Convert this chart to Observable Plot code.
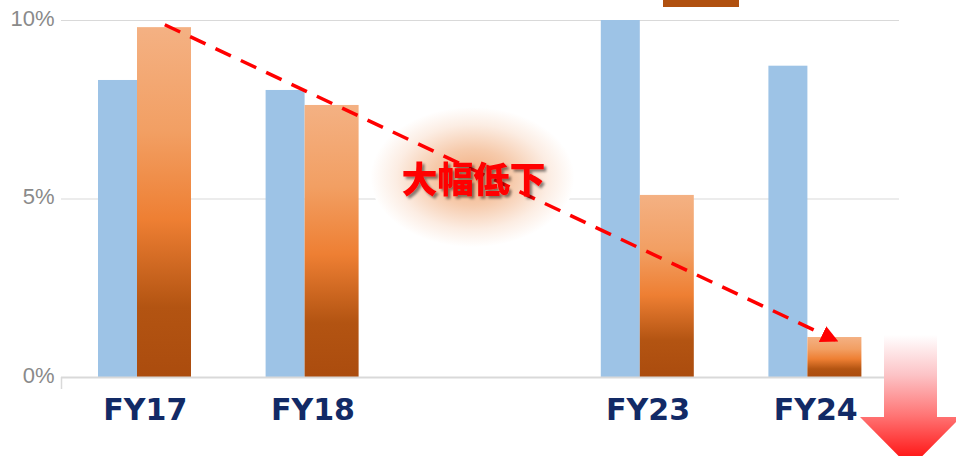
<!DOCTYPE html>
<html>
<head>
<meta charset="utf-8">
<script src="https://cdn.jsdelivr.net/npm/d3@7"></script>
<script src="https://cdn.jsdelivr.net/npm/@observablehq/plot@0.6"></script>
<style>
  html, body { margin: 0; padding: 0; background: #fff; }
  #wrap { position: relative; width: 956px; height: 456px; overflow: hidden; }
  #legendSwatch { position: absolute; left: 663px; top: 0; width: 76px; height: 7px; background: #b0500f; }
  #bigArrow { position: absolute; left: 0; top: 0; pointer-events: none; }
</style>
</head>
<body>
<div id="wrap">
  <div id="chart"></div>
  <div id="legendSwatch"></div>
  <svg id="bigArrow" width="956" height="456" xmlns="http://www.w3.org/2000/svg">
    <defs>
      <linearGradient id="downGrad" x1="0" y1="0" x2="0" y2="1">
        <stop offset="0" stop-color="#ffffff"/>
        <stop offset="0.3" stop-color="#fcc3c6"/>
        <stop offset="0.6" stop-color="#ff7676"/>
        <stop offset="1" stop-color="#ff0000"/>
      </linearGradient>
    </defs>
    <path d="M884,335H937V417H961L910.5,468L860,417H884Z" fill="url(#downGrad)"/>
  </svg>
</div>
<script>
// ---- data ----
const categories = ["FY17", "FY18", "", "FY23", "FY24"];
const blueValues = [8.32, 8.04, null, 11.0, 8.72];
const orangeValues = [9.80, 7.62, null, 5.10, 1.12];
const yTicks = [0, 5, 10];
const annotationText = "大幅低下";
const annotationPos = [{x: "", y: 5.5}];
const trendArrow = [{x1: "FY17", y1: 9.88, x2: "FY24", y2: 1.05}];

const table = categories
  .map((c, i) => ({cat: c, blue: blueValues[i], orange: orangeValues[i]}))
  .filter(d => d.blue != null);

// plot geometry
const W = 956, H = 456, ML = 61, MR = 57, MT = 20, MB = 79;
const bw = (W - ML - MR) / categories.length;

// ellipse symbol for the glow behind the annotation
const ellipseSymbol = {
  draw(ctx) {
    const rx = 102, ry = 70, k = 0.5523;
    ctx.moveTo(rx, 0);
    ctx.bezierCurveTo(rx, ry * k, rx * k, ry, 0, ry);
    ctx.bezierCurveTo(-rx * k, ry, -rx, ry * k, -rx, 0);
    ctx.bezierCurveTo(-rx, -ry * k, -rx * k, -ry, 0, -ry);
    ctx.bezierCurveTo(rx * k, -ry, rx, -ry * k, rx, 0);
    ctx.closePath();
  }
};

const svg = Plot.plot({
  width: W, height: H,
  marginLeft: ML, marginRight: MR, marginTop: MT, marginBottom: MB,
  style: {fontFamily: "'Liberation Sans', Arial, sans-serif", background: "transparent", overflow: "visible"},
  x: {domain: categories, padding: 0, round: false, axis: null},
  y: {domain: [0, 10], axis: null},
  marks: [
    Plot.gridY([5, 10], {stroke: "#d9d9d9", strokeOpacity: 1, strokeWidth: 1}),
    Plot.dot(annotationPos, {x: "x", y: "y", dx: -8, dy: -4, symbol: ellipseSymbol, r: 10, fill: "url(#glow)", stroke: "none"}),
    Plot.barY(table, {x: "cat", y: "blue", fill: "#9dc3e6", insetLeft: 37, insetRight: bw - 76, clip: true}),
    Plot.barY(table, {x: "cat", y: "orange", fill: "url(#og)", insetLeft: 76, insetRight: bw - 130}),
    Plot.ruleY([0], {stroke: "#d9d9d9", strokeWidth: 2}),
    Plot.ruleX([categories[0]], {x: d => d, dx: -bw / 2, dy: 12, insetTop: H - MT - MB - 12, stroke: "#d9d9d9", strokeWidth: 1.5}),
    Plot.link(trendArrow, {x1: "x1", y1: "y1", x2: "x2", y2: "y2", dx: 19.5, stroke: "#ff0000", strokeWidth: 3.5, strokeDasharray: "17,11"}),
    Plot.text(annotationPos, {x: "x", y: "y", dx: -7, text: () => annotationText, fontSize: 36, fontWeight: 900,
      fill: "#ff0000", fontFamily: "'Noto Sans CJK JP', sans-serif"}),
    Plot.axisY({ticks: yTicks, tickFormat: d => d + "%", tickSize: 0, tickPadding: 7, fontSize: 22, fill: "#8a8a8a", dy: -2}),
    Plot.axisX({tickSize: 0, tickPadding: 21, fontSize: 30, fontWeight: "bold", fill: "#122a66",
      fontFamily: "'DejaVu Sans', Verdana, sans-serif"})
  ]
});

// gradients, marker and shadow filter
const defsStr = `<svg xmlns="http://www.w3.org/2000/svg"><defs>
  <linearGradient id="og" x1="0" y1="0" x2="0" y2="1">
    <stop offset="0" stop-color="#f4b183"/>
    <stop offset="0.3" stop-color="#f29f63"/>
    <stop offset="0.55" stop-color="#ee7f33"/>
    <stop offset="0.8" stop-color="#b35412"/>
    <stop offset="1" stop-color="#ab4c0e"/>
  </linearGradient>
  <radialGradient id="glow" cx="0.5" cy="0.5" r="0.5">
    <stop offset="0" stop-color="#f2ac7c"/>
    <stop offset="0.4" stop-color="#f6caab"/>
    <stop offset="0.75" stop-color="#fcede3"/>
    <stop offset="1" stop-color="#ffffff"/>
  </radialGradient>
  <marker id="ah" viewBox="0 0 10 10" refX="8" refY="5" markerWidth="5" markerHeight="5" markerUnits="strokeWidth" orient="auto">
    <path d="M0,0L10,5L0,10Z" fill="#ff0000"/>
  </marker>
  <filter id="ts" x="-10%" y="-20%" width="130%" height="150%">
    <feDropShadow dx="2.5" dy="2.5" stdDeviation="1.2" flood-color="#000" flood-opacity="0.45"/>
  </filter>
</defs></svg>`;
const doc = new DOMParser().parseFromString(defsStr, "image/svg+xml");
svg.insertBefore(document.importNode(doc.documentElement.firstElementChild, true), svg.firstChild);

svg.querySelectorAll('g[aria-label="link"] path').forEach(p => p.setAttribute("marker-end", "url(#ah)"));
svg.querySelectorAll('g[aria-label="text"]').forEach(g => g.setAttribute("filter", "url(#ts)"));

document.getElementById("chart").appendChild(svg);
</script>
</body>
</html>
